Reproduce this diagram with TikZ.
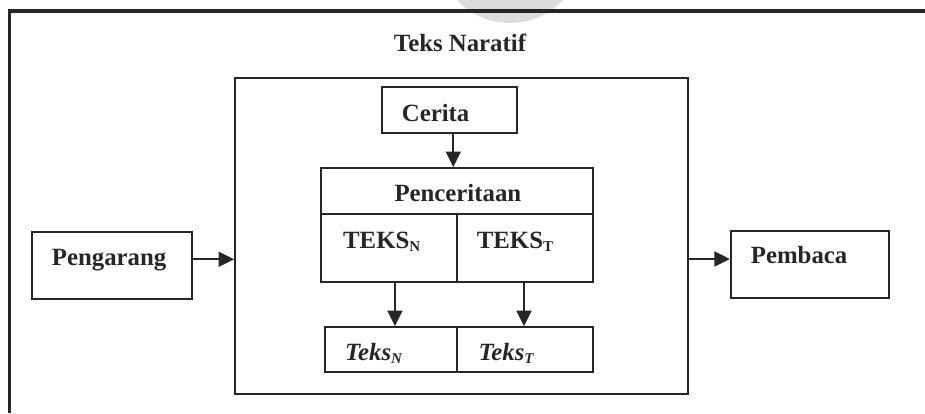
\documentclass[tikz,border=0pt]{standalone}
\usepackage{fontspec}
\setmainfont{Liberation Serif}
\usetikzlibrary{arrows.meta}
\definecolor{ink}{HTML}{262626}
\definecolor{wm}{HTML}{DCDCDC}
\newcommand{\bigfont}{\fontsize{24.8}{30}\selectfont\bfseries}
\newcommand{\subN}[1]{\raisebox{-3.5pt}{\fontsize{15}{15}\selectfont #1}}
\begin{document}
\begin{tikzpicture}[x=1pt,y=-1pt,
  box/.style={draw=ink, line width=1.8pt, rectangle, inner sep=0pt},
  lbl/.style={font=\bigfont, text=ink, inner sep=0pt, anchor=base west},
  arr/.style={draw=ink, line width=1.8pt, -{Triangle[length=15.5pt,width=15pt]}}]
\useasboundingbox (0,0) rectangle (925,413);
\clip (0,0) rectangle (925,413);
% faint watermark at the top
\fill[wm] (510,-49.6) circle[radius=72.6];
% outer frame (cropped: only top and left visible)
\draw[ink, line width=3.8pt] (9.5,413) -- (9.5,11) -- (925,11);
% title
\node[font=\bigfont, text=ink, inner sep=0pt, anchor=base] (title) at (460,51.5) {Teks Naratif};
% main boxes
\node[box, minimum width=452.7pt, minimum height=316pt] (big) at (461.35,236) {};
\node[box, minimum width=135.6pt, minimum height=46pt] (cerita) at (449.5,110) {};
\node[box, minimum width=272.3pt, minimum height=46pt] (penc) at (457.15,191) {};
\node[box, minimum width=135.7pt, minimum height=67.7pt] (tn) at (388.85,247.85) {};
\node[box, minimum width=136.6pt, minimum height=67.7pt] (tt) at (525,247.85) {};
\node[box, minimum width=132pt, minimum height=45.3pt] (kn) at (391,349.65) {};
\node[box, minimum width=136.3pt, minimum height=45.3pt] (kt) at (525.15,349.65) {};
\node[box, minimum width=159.4pt, minimum height=67.6pt] (peng) at (112,265.5) {};
\node[box, minimum width=158.6pt, minimum height=67.6pt] (pemb) at (810,264.5) {};
% labels
\node[lbl] (lcerita) at (401.7,121.7) {Cerita};
\node[lbl] (lpenc) at (394.3,201) {Penceritaan};
\node[lbl] (ltn) at (343,248.3) {TEKS\subN{N}};
\node[lbl] (ltt) at (476.7,248.3) {TEKS\subN{T}};
\node[lbl] (lkn) at (345,360) {\itshape Teks\subN{N}};
\node[lbl] (lkt) at (478.3,360) {\itshape Teks\subN{T}};
\node[lbl] (lpeng) at (51.7,265) {Pengarang};
\node[lbl] (lpemb) at (750.7,263.3) {Pembaca};
% connectors
\draw[arr] ([xshift=3.8pt]cerita.south) -- ([xshift=3.8pt]cerita.south |- penc.north);
\draw[arr] ([xshift=6.1pt]tn.south) -- ([xshift=6.1pt]tn.south |- kn.north);
\draw[arr] ([xshift=-1pt]tt.south) -- ([xshift=-1pt]tt.south |- kt.north);
\draw[arr] ([yshift=6.2pt]peng.east) -- ([yshift=6.2pt]peng.east -| big.west);
\draw[arr] ([yshift=5.5pt]pemb.west -| big.east) -- ([yshift=5.5pt]pemb.west);
\end{tikzpicture}
\end{document}
